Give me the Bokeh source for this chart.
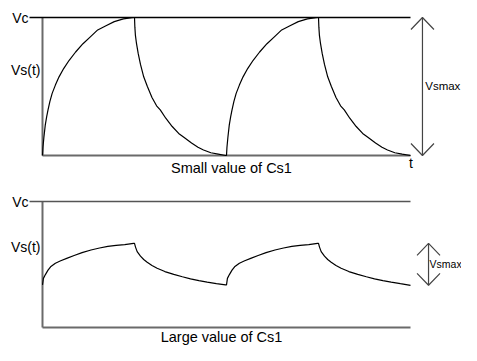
from bokeh.plotting import figure
from bokeh.layouts import column
from bokeh.models import Range1d
from bokeh.core.properties import value
from bokeh.embed import file_html
from bokeh.resources import INLINE

# ---- data (time in charge/discharge periods, voltage normalised to Vc) ----
top_t = [0.000, 0.005, 0.015, 0.030, 0.045, 0.060, 0.080, 0.105, 0.140, 0.180,
         0.230, 0.290, 0.360, 0.440, 0.520, 0.600, 0.690, 0.780, 0.880, 0.990,
         1.000, 1.004, 1.010, 1.022, 1.040, 1.065, 1.100, 1.140, 1.190, 1.240,
         1.280, 1.340, 1.410, 1.480, 1.540, 1.620, 1.690, 1.750, 1.830, 1.910, 1.990,
         2.000, 2.005, 2.015, 2.030, 2.045, 2.060, 2.080, 2.105, 2.140, 2.180,
         2.230, 2.290, 2.360, 2.440, 2.520, 2.600, 2.690, 2.780, 2.880, 2.990,
         3.000, 3.004, 3.010, 3.022, 3.040, 3.065, 3.100, 3.140, 3.190, 3.240,
         3.280, 3.340, 3.410, 3.480, 3.540, 3.620, 3.690, 3.750, 3.830, 3.910, 4.000]
top_v = [0.00, 0.06, 0.13, 0.22, 0.28, 0.33, 0.39, 0.45, 0.51, 0.57,
         0.63, 0.69, 0.75, 0.81, 0.86, 0.91, 0.94, 0.97, 0.99, 1.00,
         1.00, 0.93, 0.87, 0.81, 0.74, 0.66, 0.57, 0.50, 0.42, 0.36,
         0.33, 0.27, 0.21, 0.16, 0.13, 0.09, 0.06, 0.04, 0.02, 0.01, 0.00,
         0.00, 0.06, 0.13, 0.22, 0.28, 0.33, 0.39, 0.45, 0.51, 0.57,
         0.63, 0.69, 0.75, 0.81, 0.86, 0.91, 0.94, 0.97, 0.99, 1.00,
         1.00, 0.93, 0.87, 0.81, 0.74, 0.66, 0.57, 0.50, 0.42, 0.36,
         0.33, 0.27, 0.21, 0.16, 0.13, 0.09, 0.06, 0.04, 0.02, 0.01, 0.00]

bot_t = [0.000, 0.010, 0.033, 0.060, 0.088, 0.140, 0.198, 0.270, 0.344, 0.430,
         0.527, 0.620, 0.710, 0.800, 0.894, 0.990,
         1.000, 1.011, 1.029, 1.065, 1.100, 1.138, 1.190, 1.246, 1.330, 1.427,
         1.520, 1.609, 1.700, 1.790, 1.890, 1.990,
         2.000, 2.010, 2.033, 2.060, 2.088, 2.140, 2.198, 2.270, 2.344, 2.430,
         2.527, 2.620, 2.710, 2.800, 2.894, 2.990,
         3.000, 3.011, 3.029, 3.065, 3.100, 3.138, 3.190, 3.246, 3.330, 3.427,
         3.520, 3.609, 3.700, 3.790, 3.890, 4.000]
bot_v = [0.338, 0.390, 0.422, 0.455, 0.482, 0.510, 0.530, 0.551, 0.571, 0.594,
         0.615, 0.631, 0.644, 0.652, 0.658, 0.667,
         0.667, 0.638, 0.602, 0.566, 0.540, 0.518, 0.492, 0.470, 0.444, 0.422,
         0.403, 0.386, 0.372, 0.360, 0.348, 0.338,
         0.338, 0.390, 0.422, 0.455, 0.482, 0.510, 0.530, 0.551, 0.571, 0.594,
         0.615, 0.631, 0.644, 0.652, 0.658, 0.667,
         0.667, 0.638, 0.602, 0.566, 0.540, 0.518, 0.492, 0.470, 0.444, 0.422,
         0.403, 0.386, 0.372, 0.360, 0.348, 0.335]

vc_level = 1.0
t_end = 4.0
top_caption = "Small value of Cs1"
bot_caption = "Large value of Cs1"

FONT = value("Liberation Sans")
X_RANGE = (-0.4565, 4.5543)


def make_fig(h, y0, y1):
    p = figure(width=461, height=h, x_range=Range1d(*X_RANGE), y_range=Range1d(y0, y1),
               output_backend="svg", toolbar_location=None,
               x_axis_location=None, y_axis_location=None, min_border=0)
    p.outline_line_color = None
    p.background_fill_color = "white"
    p.border_fill_color = "white"
    for g in p.grid:
        g.visible = False
    return p


def draw_panel(p, ts, vs, vc_color, caption, caption_y, caption_base, cap_x,
               arrow_x, arrow_lo, arrow_hi, head_d, vs_label_y, vsmax_x, vsmax_size, show_t):
    # axes frame
    p.segment(x0=[0, 0], y0=[0, 0], x1=[0, t_end], y1=[vc_level, 0],
              line_color="#6a6a6a", line_width=2)
    # Vc reference line
    p.segment(x0=[-0.141], y0=[vc_level], x1=[t_end], y1=[vc_level],
              line_color=vc_color, line_width=1.3)
    # waveform
    p.line(ts, vs, line_color="black", line_width=1.2)
    # double-headed arrow
    hw = 0.125
    p.segment(x0=[arrow_x], y0=[arrow_lo], x1=[arrow_x], y1=[arrow_hi],
              line_color="#444444", line_width=1.2)
    p.multi_line(xs=[[arrow_x - hw, arrow_x, arrow_x + hw], [arrow_x - hw, arrow_x, arrow_x + hw]],
                 ys=[[arrow_hi - head_d, arrow_hi, arrow_hi - head_d],
                     [arrow_lo + head_d, arrow_lo, arrow_lo + head_d]],
                 line_color="#444444", line_width=1.2)
    # labels
    p.text(x=[-0.152], y=[vc_level], text=["Vc"], text_font=FONT,
           text_font_size=value("14px"), text_align="right", text_baseline="middle",
           text_color="black")
    p.text(x=[-0.022], y=[vs_label_y], text=["Vs(t)"], text_font=FONT,
           text_font_size=value("14px"), text_align="right", text_baseline="middle",
           text_color="black")
    p.text(x=[vsmax_x], y=[(arrow_lo + arrow_hi) / 2], text=["Vsmax"], text_font=FONT,
           text_font_size=value(vsmax_size), text_align="left", text_baseline="middle",
           text_color="black")
    p.text(x=[cap_x], y=[caption_y], text=[caption], text_font=FONT,
           text_font_size=value("14.5px"), text_align="center",
           text_baseline=caption_base, text_color="black")
    if show_t:
        p.text(x=[t_end + 0.005], y=[-0.058], text=["t"], text_font=FONT,
               text_font_size=value("14px"), text_align="center", text_baseline="middle",
               text_color="black")


# top panel: v=0 at px 155, v=1 at px 17 (138 px per unit), 180 px tall
p1 = make_fig(180, -0.1812, 1.1232)
draw_panel(p1, top_t, top_v, "black", top_caption, -0.094, "middle", 2.054,
           4.130, 0.0, vc_level, 0.087, 0.62, 4.160, "11.5px", True)

# bottom panel: v=1 at px 201, v=0 at px 327 (126 px per unit), 165 px tall
p2 = make_fig(165, -0.1429, 1.1667)
draw_panel(p2, bot_t, bot_v, "#555555", bot_caption, -0.135, "bottom", 1.946,
           4.196, min(bot_v), max(bot_v), 0.095, 0.638, 4.207, "10.5px", False)

layout = column(p1, p2, spacing=0)
open("out.html", "w").write(file_html(layout, INLINE))
